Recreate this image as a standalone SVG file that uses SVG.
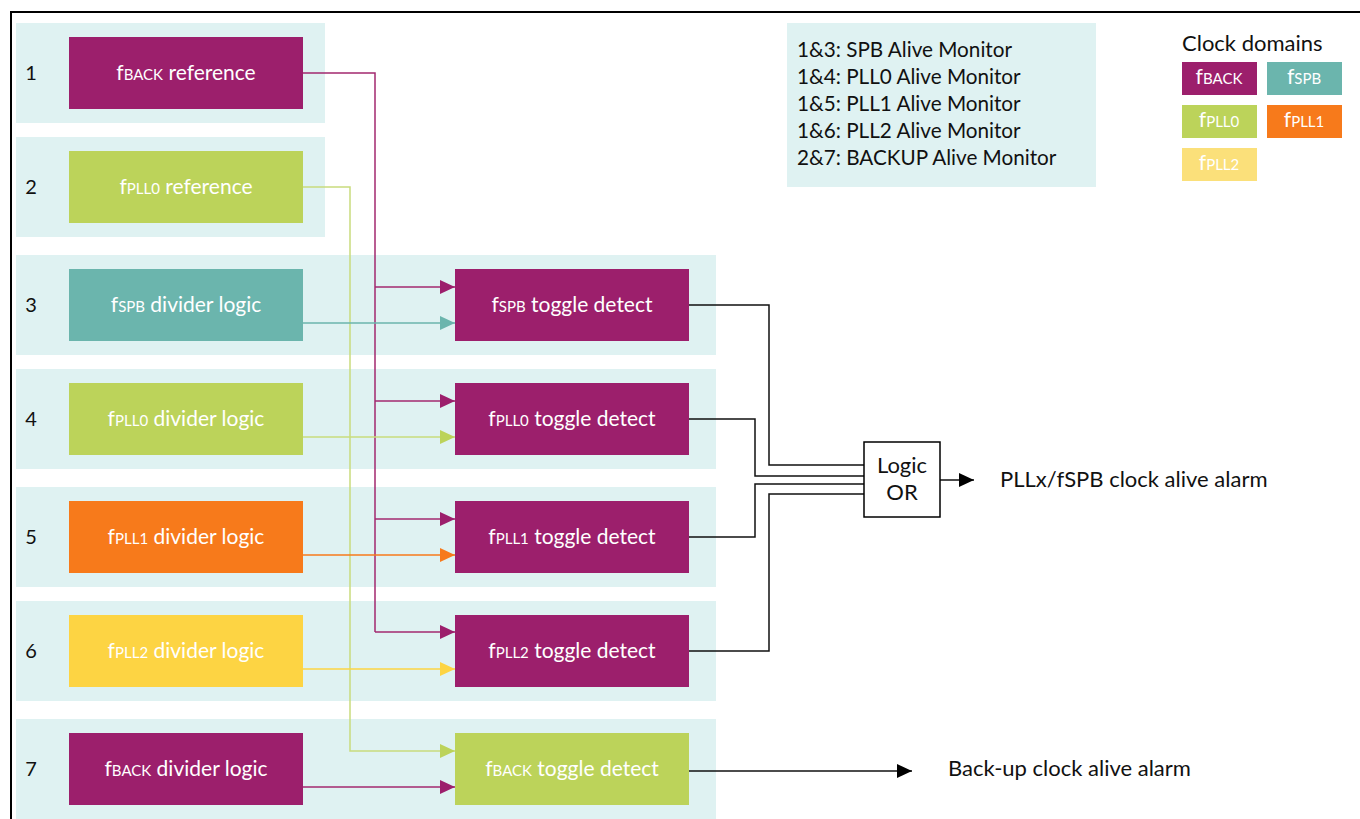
<svg xmlns="http://www.w3.org/2000/svg" width="1360" height="819" viewBox="0 0 1360 819">
<style>
text{font-family:Lato,"Liberation Sans",sans-serif}
.band{fill:#dff2f2}
.mag{fill:#9c1f6c}
.teal{fill:#6bb5ad}
.grn{fill:#bcd35a}
.org{fill:#f77a1b}
.yel{fill:#fdd443}
.bt{fill:#fff;font-size:21px;text-anchor:middle}
.sub{font-size:15px}
.num{fill:#111;font-size:20px;text-anchor:middle}
.lbl{fill:#111;font-size:22px}
.leg{fill:#111;font-size:20.7px}
.cm{fill:none;stroke:#a3286f;stroke-width:1.5}
.cg{fill:none;stroke:#c9dc7d;stroke-width:1.5}
.ct{fill:none;stroke:#6bb5ad;stroke-width:1.5}
.cy{fill:none;stroke:#fdd443;stroke-width:1.5}
.co{fill:none;stroke:#f77a1b;stroke-width:1.5}
.ck{fill:none;stroke:#111;stroke-width:1.5}
</style>
<defs>
<marker id="am" markerWidth="16" markerHeight="14" refX="15" refY="7" orient="auto" markerUnits="userSpaceOnUse"><path d="M0,0 L15,7 L0,14 Z" fill="#9c1f6c"/></marker>
<marker id="ag" markerWidth="16" markerHeight="14" refX="15" refY="7" orient="auto" markerUnits="userSpaceOnUse"><path d="M0,0 L15,7 L0,14 Z" fill="#bcd35a"/></marker>
<marker id="at" markerWidth="16" markerHeight="14" refX="15" refY="7" orient="auto" markerUnits="userSpaceOnUse"><path d="M0,0 L15,7 L0,14 Z" fill="#6bb5ad"/></marker>
<marker id="ay" markerWidth="16" markerHeight="14" refX="15" refY="7" orient="auto" markerUnits="userSpaceOnUse"><path d="M0,0 L15,7 L0,14 Z" fill="#fdd443"/></marker>
<marker id="ao" markerWidth="16" markerHeight="14" refX="15" refY="7" orient="auto" markerUnits="userSpaceOnUse"><path d="M0,0 L15,7 L0,14 Z" fill="#f77a1b"/></marker>
<marker id="ak" markerWidth="16" markerHeight="14" refX="15" refY="7" orient="auto" markerUnits="userSpaceOnUse"><path d="M0,0 L15,7 L0,14 Z" fill="#000"/></marker>
</defs>
<rect x="0" y="0" width="1360" height="819" fill="#fff"/>
<rect x="11" y="12" width="1360" height="820" fill="none" stroke="#000" stroke-width="2"/>

<g id="bands">
<rect class="band" x="16" y="23" width="309" height="100"/>
<rect class="band" x="16" y="137" width="309" height="100"/>
<rect class="band" x="16" y="255" width="700" height="100"/>
<rect class="band" x="16" y="369" width="700" height="100"/>
<rect class="band" x="16" y="487" width="700" height="100"/>
<rect class="band" x="16" y="601" width="700" height="100"/>
<rect class="band" x="16" y="719" width="700" height="100"/>
</g>

<g id="row-numbers">
<text class="num" x="31" y="80">1</text>
<text class="num" x="31" y="194">2</text>
<text class="num" x="31" y="312">3</text>
<text class="num" x="31" y="426">4</text>
<text class="num" x="31" y="544">5</text>
<text class="num" x="31" y="658">6</text>
<text class="num" x="31" y="776">7</text>
</g>

<g id="connectors">
<polyline class="cm" points="303,73 375,73 375,632"/>
<line class="cm" x1="375" y1="287" x2="455" y2="287" marker-end="url(#am)"/>
<line class="cm" x1="375" y1="401" x2="455" y2="401" marker-end="url(#am)"/>
<line class="cm" x1="375" y1="519" x2="455" y2="519" marker-end="url(#am)"/>
<polyline class="cm" points="375,632 455,632" marker-end="url(#am)"/>
<polyline class="cg" points="303,187 350,187 350,751 455,751" marker-end="url(#ag)"/>
<line class="ct" x1="303" y1="323" x2="455" y2="323" marker-end="url(#at)"/>
<line class="cg" x1="303" y1="437" x2="455" y2="437" marker-end="url(#ag)"/>
<line class="co" x1="303" y1="555" x2="455" y2="555" marker-end="url(#ao)"/>
<line class="cy" x1="303" y1="669" x2="455" y2="669" marker-end="url(#ay)"/>
<line class="cm" x1="303" y1="787" x2="455" y2="787" marker-end="url(#am)"/>
<polyline class="ck" points="689,305 769,305 769,465 864,465"/>
<polyline class="ck" points="689,419 755,419 755,476 864,476"/>
<polyline class="ck" points="689,537 755,537 755,484 864,484"/>
<polyline class="ck" points="689,651 769,651 769,494 864,494"/>
<line class="ck" x1="940" y1="480" x2="974" y2="480" marker-end="url(#ak)"/>
<line class="ck" x1="689" y1="771" x2="912" y2="771" marker-end="url(#ak)"/>
</g>

<g id="n1"><rect class="mag" x="69" y="37" width="234" height="72"/><text class="bt" x="186" y="80">f<tspan class="sub">BACK</tspan> reference</text></g>
<g id="n2"><rect class="grn" x="69" y="151" width="234" height="72"/><text class="bt" x="186" y="194">f<tspan class="sub">PLL0</tspan> reference</text></g>
<g id="n3"><rect class="teal" x="69" y="269" width="234" height="72"/><text class="bt" x="186" y="312">f<tspan class="sub">SPB</tspan> divider logic</text></g>
<g id="n4"><rect class="grn" x="69" y="383" width="234" height="72"/><text class="bt" x="186" y="426">f<tspan class="sub">PLL0</tspan> divider logic</text></g>
<g id="n5"><rect class="org" x="69" y="501" width="234" height="72"/><text class="bt" x="186" y="544">f<tspan class="sub">PLL1</tspan> divider logic</text></g>
<g id="n6"><rect class="yel" x="69" y="615" width="234" height="72"/><text class="bt" x="186" y="658">f<tspan class="sub">PLL2</tspan> divider logic</text></g>
<g id="n7"><rect class="mag" x="69" y="733" width="234" height="72"/><text class="bt" x="186" y="776">f<tspan class="sub">BACK</tspan> divider logic</text></g>

<g id="t3"><rect class="mag" x="455" y="269" width="234" height="72"/><text class="bt" x="572" y="312">f<tspan class="sub">SPB</tspan> toggle detect</text></g>
<g id="t4"><rect class="mag" x="455" y="383" width="234" height="72"/><text class="bt" x="572" y="426">f<tspan class="sub">PLL0</tspan> toggle detect</text></g>
<g id="t5"><rect class="mag" x="455" y="501" width="234" height="72"/><text class="bt" x="572" y="544">f<tspan class="sub">PLL1</tspan> toggle detect</text></g>
<g id="t6"><rect class="mag" x="455" y="615" width="234" height="72"/><text class="bt" x="572" y="658">f<tspan class="sub">PLL2</tspan> toggle detect</text></g>
<g id="t7"><rect class="grn" x="455" y="733" width="234" height="72"/><text class="bt" x="572" y="776">f<tspan class="sub">BACK</tspan> toggle detect</text></g>

<g id="or"><rect x="864" y="442" width="76" height="75" fill="#fff" stroke="#000" stroke-width="1.5"/><text class="lbl" x="902" y="473" text-anchor="middle">Logic</text><text class="lbl" x="902" y="500" text-anchor="middle">OR</text></g>

<g id="out1"><text class="lbl" x="1000" y="487">PLLx/fSPB clock alive alarm</text></g>
<g id="out2"><text class="lbl" x="948" y="776">Back-up clock alive alarm</text></g>

<g id="legend-box"><rect class="band" x="787" y="23" width="309" height="164"/>
<text class="leg" x="797" y="57">1&amp;3: SPB Alive Monitor</text>
<text class="leg" x="797" y="84">1&amp;4: PLL0 Alive Monitor</text>
<text class="leg" x="797" y="111">1&amp;5: PLL1 Alive Monitor</text>
<text class="leg" x="797" y="138">1&amp;6: PLL2 Alive Monitor</text>
<text class="leg" x="797" y="165">2&amp;7: BACKUP Alive Monitor</text>
</g>

<g id="clock-domains">
<text class="lbl" x="1182" y="51">Clock domains</text>
<rect class="mag" x="1182" y="62" width="75" height="33"/><text class="bt" x="1219" y="84">f<tspan class="sub">BACK</tspan></text>
<rect class="teal" x="1267" y="62" width="75" height="33"/><text class="bt" x="1304" y="84">f<tspan class="sub">SPB</tspan></text>
<rect class="grn" x="1182" y="105" width="75" height="33"/><text class="bt" x="1219" y="127">f<tspan class="sub">PLL0</tspan></text>
<rect class="org" x="1267" y="105" width="75" height="33"/><text class="bt" x="1304" y="127">f<tspan class="sub">PLL1</tspan></text>
<rect x="1182" y="148" width="75" height="33" fill="#fbe07a"/><text class="bt" x="1219" y="170">f<tspan class="sub">PLL2</tspan></text>
</g>
</svg>
